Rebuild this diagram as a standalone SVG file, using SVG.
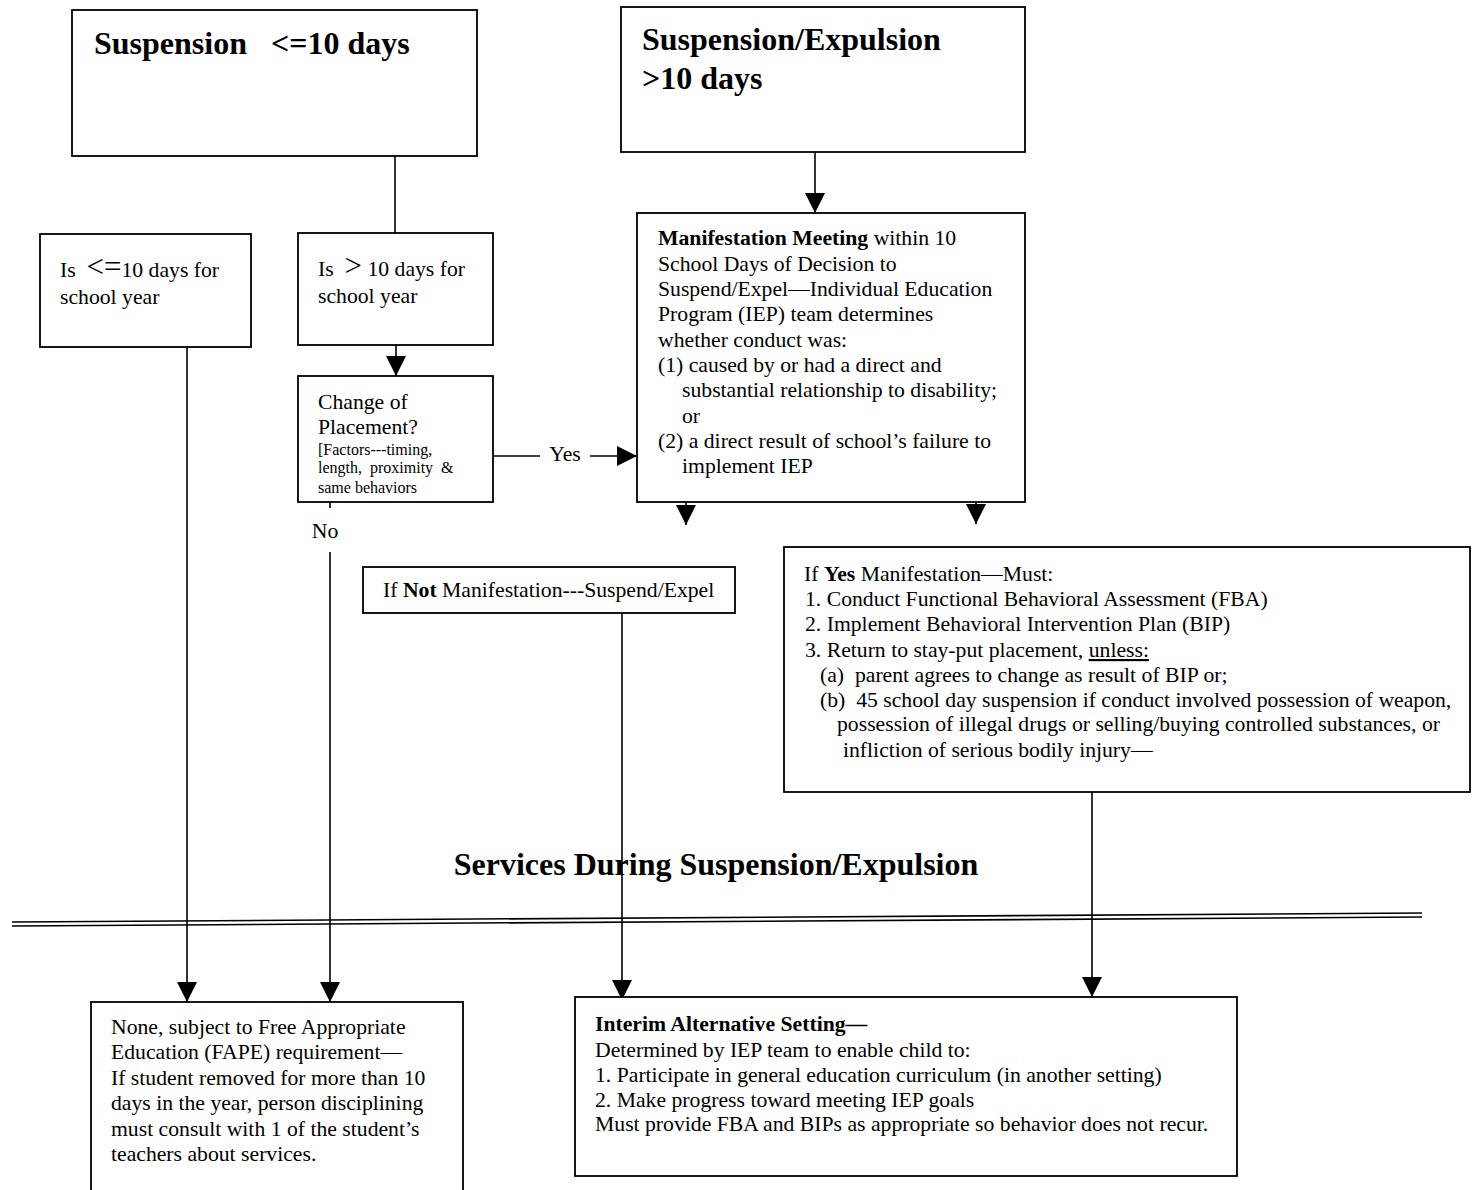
<svg xmlns="http://www.w3.org/2000/svg" width="1476" height="1190" viewBox="0 0 1476 1190">
<style>
.box{fill:#fff;stroke:#000;stroke-width:1.8}
.t{font-family:"Liberation Serif","Times New Roman",serif;font-size:21.7px;fill:#000}
.s{font-size:16px}
.h{font-family:"Liberation Serif","Times New Roman",serif;font-size:32px;font-weight:bold;fill:#000}
.c{stroke:#000;stroke-width:1.6;fill:none}
</style>
<defs>
<marker id="A" viewBox="0 0 20 20" refX="20" refY="10" markerWidth="20" markerHeight="20" markerUnits="userSpaceOnUse" orient="auto">
<path d="M0,0 L20,10 L0,20 Z" fill="#000"/>
</marker>
</defs>
<rect width="1476" height="1190" fill="#fff"/>
<g id="connectors">
<line class="c" x1="395" y1="156" x2="395" y2="233"/>
<line class="c" x1="815" y1="152" x2="815" y2="213" marker-end="url(#A)"/>
<line class="c" x1="396" y1="345" x2="396" y2="376" marker-end="url(#A)"/>
<line class="c" x1="493" y1="456" x2="540" y2="456"/>
<line class="c" x1="590" y1="456" x2="637" y2="456" marker-end="url(#A)"/>
<line class="c" x1="686" y1="478" x2="686" y2="525" marker-end="url(#A)"/>
<line class="c" x1="976" y1="475" x2="976" y2="524" marker-end="url(#A)"/>
<line class="c" x1="330" y1="484" x2="330" y2="508"/>
<line class="c" x1="330" y1="552" x2="330" y2="1002" marker-end="url(#A)"/>
<line class="c" x1="187" y1="347" x2="187" y2="1002" marker-end="url(#A)"/>
<line class="c" x1="622" y1="598" x2="622" y2="1000" marker-end="url(#A)"/>
<line class="c" x1="1092" y1="792" x2="1092" y2="997" marker-end="url(#A)"/>
<text class="t" x="565" y="461" text-anchor="middle">Yes</text>
<text class="t" x="325" y="538" text-anchor="middle">No</text>
</g>
<g id="n1">
<rect class="box" x="72" y="10" width="405" height="146"/>
<text class="h" x="94" y="54" xml:space="preserve">Suspension   &lt;=10 days</text>
</g>
<g id="n2">
<rect class="box" x="621" y="7" width="404" height="145"/>
<text class="h" x="642" y="50">Suspension/Expulsion</text>
<text class="h" x="642" y="89">&gt;10 days</text>
</g>
<g id="n3">
<rect class="box" x="40" y="234" width="211" height="113"/>
<text class="t" x="60" y="277" xml:space="preserve">Is  <tspan font-size="31">&lt;=</tspan>10 days for</text>
<text class="t" x="60" y="304">school year</text>
</g>
<g id="n4">
<rect class="box" x="298" y="233" width="195" height="112"/>
<text class="t" x="318" y="276" xml:space="preserve">Is  <tspan font-size="31">&gt;</tspan> 10 days for</text>
<text class="t" x="318" y="303">school year</text>
</g>
<g id="n5">
<rect class="box" x="298" y="376" width="195" height="126"/>
<text class="t" x="318" y="409" font-size="23">Change of</text>
<text class="t" x="318" y="434" font-size="23">Placement?</text>
<text class="t s" x="318" y="455">[Factors---timing,</text>
<text class="t s" x="318" y="473" xml:space="preserve">length,  proximity  &amp;</text>
<text class="t s" x="318" y="493">same behaviors</text>
</g>
<g id="n6">
<rect class="box" x="637" y="213" width="388" height="289"/>
<text class="t" x="658" y="245"><tspan font-weight="bold">Manifestation Meeting</tspan> within 10</text>
<text class="t" x="658" y="271">School Days of Decision to</text>
<text class="t" x="658" y="296">Suspend/Expel—Individual Education</text>
<text class="t" x="658" y="321">Program (IEP) team determines</text>
<text class="t" x="658" y="347">whether conduct was:</text>
<text class="t" x="658" y="372">(1) caused by or had a direct and</text>
<text class="t" x="682" y="397">substantial relationship to disability;</text>
<text class="t" x="682" y="423">or</text>
<text class="t" x="658" y="448">(2) a direct result of school’s failure to</text>
<text class="t" x="682" y="473">implement IEP</text>
</g>
<g id="n7">
<rect class="box" x="363" y="567" width="372" height="46"/>
<text class="t" x="383" y="597">If <tspan font-weight="bold">Not</tspan> Manifestation---Suspend/Expel</text>
</g>
<g id="n8">
<rect class="box" x="784" y="547" width="686" height="245"/>
<text class="t" x="804" y="581">If <tspan font-weight="bold">Yes</tspan> Manifestation—Must:</text>
<text class="t" x="805" y="606">1. Conduct Functional Behavioral Assessment (FBA)</text>
<text class="t" x="805" y="631">2. Implement Behavioral Intervention Plan (BIP)</text>
<text class="t" x="805" y="657">3. Return to stay-put placement, <tspan text-decoration="underline">unless:</tspan></text>
<text class="t" x="820" y="682" xml:space="preserve">(a)  parent agrees to change as result of BIP or;</text>
<text class="t" x="820" y="707" xml:space="preserve">(b)  45 school day suspension if conduct involved possession of weapon,</text>
<text class="t" x="837" y="731">possession of illegal drugs or selling/buying controlled substances, or</text>
<text class="t" x="843" y="757">infliction of serious bodily injury—</text>
</g>
<g id="title">
<text class="h" x="716" y="875" text-anchor="middle">Services During Suspension/Expulsion</text>
<line x1="12" y1="922" x2="1422" y2="913" stroke="#000" stroke-width="1.6"/>
<line x1="12" y1="926" x2="1422" y2="917" stroke="#000" stroke-width="1.6"/>
</g>
<g id="n9">
<rect class="box" x="91" y="1002" width="372" height="195"/>
<text class="t" x="111" y="1034">None, subject to Free Appropriate</text>
<text class="t" x="111" y="1059">Education (FAPE) requirement—</text>
<text class="t" x="111" y="1085">If student removed for more than 10</text>
<text class="t" x="111" y="1110">days in the year, person disciplining</text>
<text class="t" x="111" y="1136">must consult with 1 of the student’s</text>
<text class="t" x="111" y="1161">teachers about services.</text>
</g>
<g id="n10">
<rect class="box" x="575" y="997" width="662" height="179"/>
<text class="t" x="595" y="1031" font-weight="bold">Interim Alternative Setting—</text>
<text class="t" x="595" y="1057">Determined by IEP team to enable child to:</text>
<text class="t" x="595" y="1082">1. Participate in general education curriculum (in another setting)</text>
<text class="t" x="595" y="1107">2. Make progress toward meeting IEP goals</text>
<text class="t" x="595" y="1131">Must provide FBA and BIPs as appropriate so behavior does not recur.</text>
</g>
</svg>
